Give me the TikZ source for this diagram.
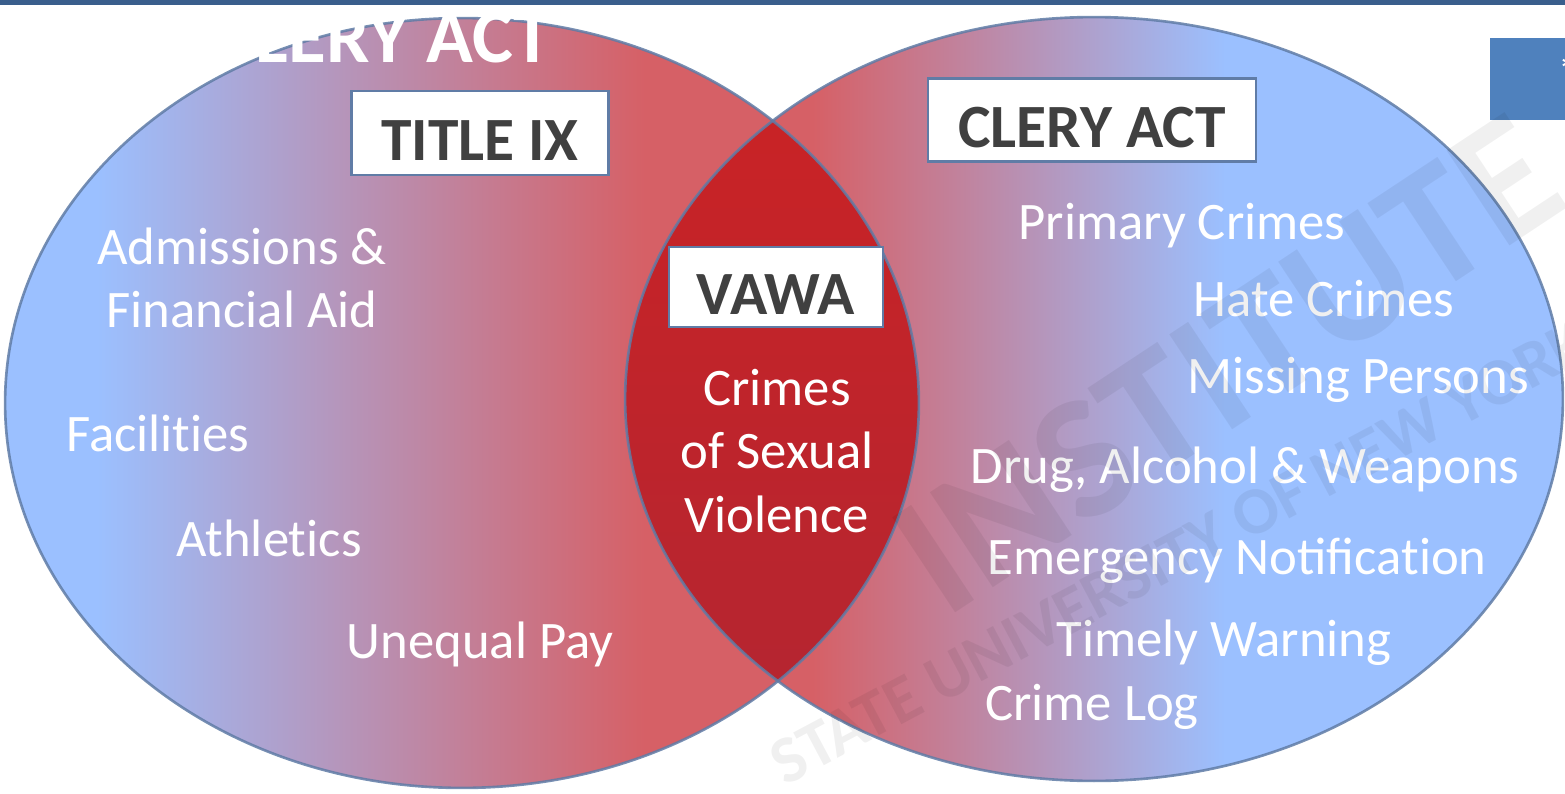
\documentclass[tikz,border=0pt]{standalone}
\usepackage{fontspec}
\setmainfont{Carlito}
\usepackage{tikz}
\newcommand\tbrk{\kern0pt}
\definecolor{vennblue}{RGB}{155,192,255}
\definecolor{vennred}{RGB}{214,96,102}
\definecolor{lenstop}{RGB}{204,34,36}
\definecolor{lensbottom}{RGB}{178,38,50}
\definecolor{rimblue}{RGB}{96,124,166}
\definecolor{boxtext}{RGB}{64,64,64}
\definecolor{slideblue}{RGB}{79,129,189}
\definecolor{topline}{RGB}{58,94,140}
\pgfdeclarehorizontalshading{leftfade}{100bp}{color(0bp)=(vennblue); color(30bp)=(vennblue); color(60bp)=(vennred); color(100bp)=(vennred)}
\pgfdeclarehorizontalshading{rightfade}{100bp}{color(0bp)=(vennred); color(35bp)=(vennred); color(57bp)=(vennblue); color(100bp)=(vennblue)}
\tikzset{
  lawbox/.style={draw=rimblue, line width=1.2pt, fill=white, text=boxtext, inner sep=0pt,
    text height=1.1cm, text depth=0pt, font=\bfseries\fontsize{35}{40}\selectfont},
  item/.style={text=white, font=\fontsize{30}{36}\selectfont},
  wmark/.style={text=black, opacity=0.06}
}
\begin{document}
\begin{tikzpicture}[x=0.02cm, y=-0.02cm]
      \useasboundingbox (0,0) rectangle (1565,794);
      \fill[topline] (0,0) rectangle (1565,5);
      \fill[slideblue] (1490,38) rectangle (1565,120);
      \node[text=white, anchor=west, font=\bfseries\fontsize{20}{20}\selectfont] (star) at (1553,70) {*};
      \shade[shading=leftfade] (462,403) ellipse [x radius=9.14cm, y radius=7.70cm];
      \shade[shading=rightfade] (1094,399) ellipse [x radius=9.38cm, y radius=7.64cm];
      \begin{scope}
        \clip (462,403) ellipse [x radius=9.14cm, y radius=7.70cm];
        \shade[top color=lenstop, bottom color=lensbottom] (1094,399) ellipse [x radius=9.38cm, y radius=7.64cm];
      \end{scope}
      \draw[rimblue, line width=1.5pt, opacity=0.85] (462,403) ellipse [x radius=9.14cm, y radius=7.70cm];
      \draw[rimblue, line width=1.5pt, opacity=0.85] (1094,399) ellipse [x radius=9.38cm, y radius=7.64cm];
      \node[text=white, anchor=base east, inner sep=0pt, font=\bfseries\fontsize{44}{44}\selectfont] (toptitle) at (552,63) {CLERY ACT};
      \node[lawbox, minimum width=5.14cm, minimum height=1.68cm] (titleix) at (480,133) {TITLE IX};
      \node[lawbox, minimum width=6.56cm, minimum height=1.66cm] (clery) at (1092,120) {CLERY ACT};
      \node[lawbox, minimum width=4.28cm, minimum height=1.60cm] (vawa) at (776,287) {VAWA};
      \node[item, align=center] (admissions) at (242,278) {Admissions \&\\Financial Aid};
      \node[item, anchor=base] (facilities) at (158,451) {Facilit\tbrk ies};
      \node[item, anchor=base] (athletics) at (269,556) {Athlet\tbrk ics};
      \node[item, anchor=base] (unequal) at (480,658) {Unequal Pay};
      \node[item, align=center] (sexual) at (777,451) {Crimes\\of Sexual\\Violence};
      \node[item, anchor=base] (primary) at (1182,239) {Primary Crimes};
      \node[item, anchor=base] (hate) at (1324,316) {Hate Crimes};
      \node[item, anchor=base] (missing) at (1358,393) {Missing Persons};
      \node[item, anchor=base] (drug) at (1245,483) {Drug, Alcohol \& Weapons};
      \node[item, anchor=base] (emergency) at (1237,574) {Emergency Notificat\tbrk ion};
      \node[item, anchor=base] (timely) at (1224,656) {Timely Warning};
      \node[item, anchor=base] (crimelog) at (1092,720) {Crime Log};
      \node[wmark, rotate=33.5, font=\bfseries\fontsize{100}{100}\selectfont] (wminst) at (1228,364) {INSTITUTE};
      \node[wmark, rotate=28, font=\bfseries\fontsize{38}{38}\selectfont] (wmsuny) at (1180,552) {STATE UNIVERSITY OF NEW YORK};
    \end{tikzpicture}
\end{document}
